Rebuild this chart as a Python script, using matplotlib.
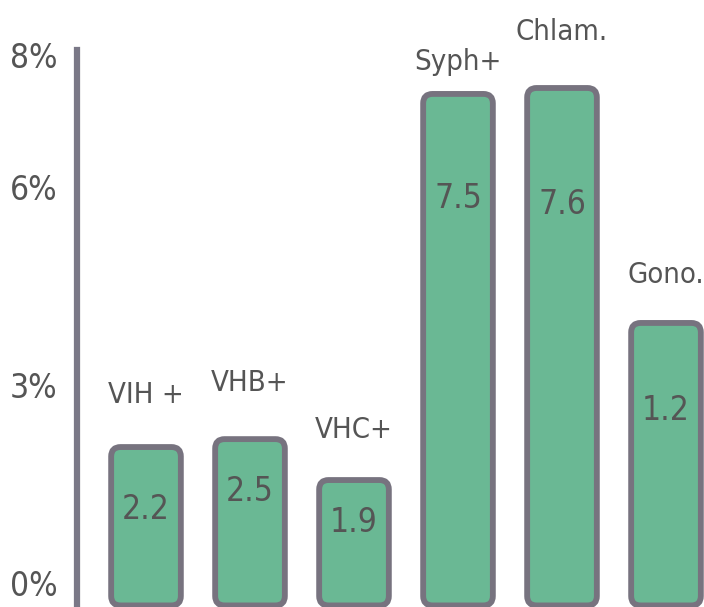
import matplotlib
matplotlib.use("Agg")
import matplotlib.pyplot as plt
from matplotlib.patches import FancyBboxPatch

plt.rcParams['font.family'] = ['DejaVu Sans']
plt.rcParams['font.stretch'] = 'condensed'

# data
categories = ["VIH +", "VHB+", "VHC+", "Syph+", "Chlam.", "Gono."]
bar_heights = [2.06, 2.18, 1.56, 7.41, 7.50, 3.94]   # drawn height, in %
value_labels = ["2.2", "2.5", "1.9", "7.5", "7.6", "1.2"]
y_ticks = [0, 3, 6, 8]
y_tick_labels = ["0%", "3%", "6%", "8%"]

# layout tweaks (how far the texts sit from the bar top)
label_lift = [0.79, 0.85, 0.76, 0.48, 0.85, 0.73]
value_drop = [0.95, 0.80, 0.64, 1.58, 1.77, 1.32]

fill = "#6ab894"
edge = "#77737f"
txt = "#555555"

fig = plt.figure(figsize=(7.04, 6.07), dpi=100)
ax = fig.add_axes([0, 0, 1, 1])

# 104 px per category, 66 px per percent
ax.set_xlim(-146 / 104, (704 - 146) / 104)
ax.set_ylim(-24 / 66, (607 - 24) / 66)

bottom = -0.34
width = 0.67
aspect = 104 / 66
for i, h in enumerate(bar_heights):
    p = FancyBboxPatch((i - width / 2, bottom), width, h - bottom,
                       boxstyle="round,pad=0,rounding_size=0.09",
                       mutation_aspect=aspect,
                       facecolor=fill, edgecolor=edge, linewidth=4.2,
                       joinstyle="round")
    ax.add_patch(p)
    ax.text(i, h + label_lift[i], categories[i], ha="center", va="center",
            fontsize=21, color=txt)
    ax.text(i, h - value_drop[i], value_labels[i], ha="center", va="center",
            fontsize=24, color=txt)

for s in ["top", "right", "bottom"]:
    ax.spines[s].set_visible(False)
ax.spines["left"].set_position(("data", -0.663))
ax.spines["left"].set_bounds(-1, 8.08)
ax.spines["left"].set_color("#7a7887")
ax.spines["left"].set_linewidth(4.5)

ax.set_xticks([])
ax.set_yticks(y_ticks)
ax.set_yticklabels(y_tick_labels, fontsize=24, color=txt)
ax.tick_params(axis="y", length=0, pad=14)

fig.savefig("out.png", dpi=100)
